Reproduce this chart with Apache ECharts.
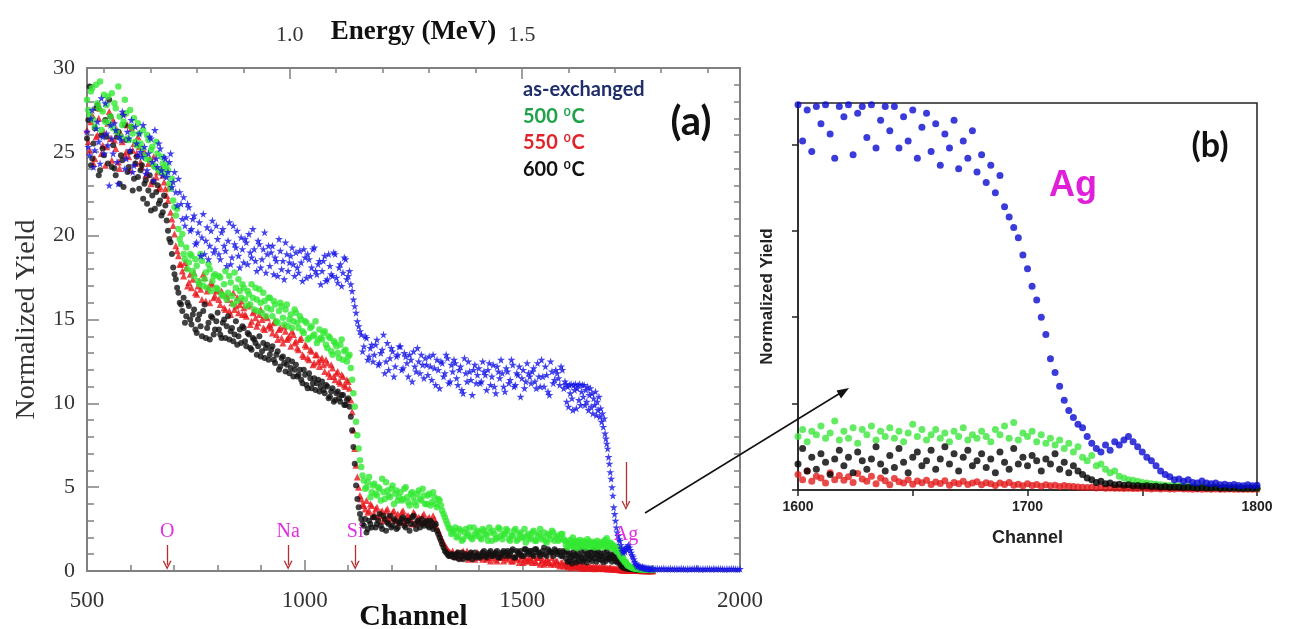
<!DOCTYPE html>
<html lang="en">
<head>
  <meta charset="UTF-8">
  <title>RBS spectra</title>
  <script src="https://cdn.jsdelivr.net/npm/echarts@6/dist/echarts.min.js"></script>
</head>
<body style="margin:0;background:#fff">
  <div id="app" style="width: 1295px; height: 629px;"></div>
  <script>
    // channel grids: two interleaved coarse sets for panel (a), fine set shared with panel (b), blue tail
    var coarseStart = 500, coarseStartB = 503, coarseStep = 6
    var fineStart = 1600, fineStep = 2
    var tailStart = 1805, tailStep = 5

    var blueCoarse = [
      26.2, 24.8, 27.5, 25.1, 26.8, 24.3, 25.9, 27.9, 25.4, 26.6,
      24.9, 26.3, 23.1, 25.7, 27.2, 24.6, 25.8, 26.9, 24.2, 25.5,
      26.1, 24.7, 25.3, 23.9, 25.9, 24.4, 26.3, 24.1, 25.2, 23.6,
      24.6, 23.8, 24.9, 23.2, 22.6, 23.4, 21.9, 22.3, 21.1, 21.7,
      20.4, 21.2, 19.6, 20.8, 19.9, 18.9, 20.5, 19.4, 20.9, 19.2,
      19.8, 18.6, 20.4, 19.1, 19.7, 18.3, 20.6, 19.3, 18.8, 19.9,
      18.4, 19.6, 20.1, 18.7, 19.2, 17.9, 19.5, 18.6, 20.2, 18.9,
      18.2, 19.4, 18.7, 17.6, 19.1, 18.5, 19.6, 17.9, 18.8, 18.3,
      19.0, 17.8, 18.4, 19.2, 17.5, 18.6, 18.1, 19.3, 17.7, 18.5,
      17.9, 18.8, 17.4, 18.2, 17.6, 18.9, 17.2, 18.3, 17.8, 18.6,
      17.6, 17.1, 16.2, 15.4, 14.6, 14.1, 13.4, 13.9, 12.8, 13.5,
      12.9, 13.8, 12.4, 13.2, 11.8, 13.6, 12.7, 13.1, 12.2, 12.9,
      13.4, 12.1, 12.8, 11.6, 12.6, 13.1, 11.9, 12.5, 12.9, 11.5,
      12.3, 12.8, 11.4, 12.1, 12.6, 10.9, 12.4, 11.8, 12.7, 11.3,
      11.9, 12.4, 11.1, 12.2, 10.6, 11.8, 12.5, 11.4, 12.0, 11.2,
      12.1, 11.3, 11.9, 10.8, 12.4, 11.6, 11.0, 12.2, 11.5, 11.8,
      10.7, 11.9, 11.4, 12.3, 11.1, 11.7, 10.4, 12.0, 11.3, 11.8,
      11.2, 12.1, 10.9, 11.6, 12.6, 11.0, 11.7, 10.5, 11.9, 11.4,
      11.8, 11.1, 12.0, 11.3
    ]
    var blueCoarseB = [
      25.3, 27.0, 24.1, 26.4, 25.6, 28.2, 24.9, 26.1, 23.0, 25.8,
      26.7, 24.4, 25.9, 27.4, 24.0, 26.2, 25.1, 23.8, 26.5, 24.8,
      25.0, 26.6, 23.7, 24.9, 25.8, 23.3, 24.6, 25.5, 23.9, 24.7,
      23.5, 24.4, 22.9, 23.8, 21.8, 22.6, 21.0, 20.6, 21.9, 20.3,
      21.0, 19.5, 20.2, 18.8, 21.3, 19.7, 18.6, 20.3, 19.0, 20.6,
      18.9, 20.2, 19.4, 18.2, 20.8, 18.7, 19.5, 20.3, 18.1, 19.2,
      19.8, 18.3, 19.0, 20.4, 18.5, 19.7, 18.1, 19.2, 17.8, 19.4,
      19.0, 17.7, 18.5, 19.8, 18.0, 17.4, 18.9, 18.4, 19.3, 17.6,
      18.1, 19.1, 17.3, 18.7, 18.9, 17.6, 19.2, 17.9, 18.3, 17.1,
      18.5, 17.3, 18.9, 17.7, 19.0, 17.5, 18.1, 17.0, 18.7, 17.4,
      17.9, 16.7, 15.8, 14.9, 14.3, 13.1, 14.0, 12.6, 13.3, 12.5,
      13.5, 12.3, 13.0, 14.1, 12.5, 12.0, 13.3, 11.6, 12.8, 13.4,
      12.0, 13.0, 12.4, 12.9, 11.3, 12.2, 13.3, 11.8, 12.3, 12.7,
      11.7, 12.2, 12.9, 11.1, 12.0, 12.5, 11.6, 12.9, 11.2, 12.3,
      12.6, 11.5, 12.0, 10.8, 12.7, 11.3, 11.9, 10.5, 12.3, 11.7,
      11.2, 12.5, 11.7, 12.0, 11.1, 12.3, 10.6, 11.9, 12.6, 11.0,
      12.1, 11.2, 12.6, 11.0, 11.8, 12.2, 11.5, 10.9, 12.4, 11.6,
      11.9, 11.3, 12.4, 11.0, 11.6, 12.2, 10.7, 12.5, 11.2, 12.0,
      11.5, 12.2, 10.9
    ]
    var greenCoarse = [
      28.1, 27.2, 28.8, 26.5, 27.9, 29.2, 27.4, 26.8, 28.3, 27.1,
      26.4, 27.6, 28.9, 25.9, 26.8, 27.3, 25.7, 26.5, 27.0, 25.4,
      26.1, 25.2, 24.8, 26.0, 24.5, 25.3, 24.1, 24.9, 23.8, 24.3,
      23.6, 23.9, 22.8, 22.1, 21.2, 20.4, 19.5, 18.9, 19.3, 18.4,
      18.8, 17.6, 18.2, 17.1, 18.5, 17.4, 16.9, 18.0, 17.3, 17.7,
      16.8, 17.5, 16.4, 17.9, 16.6, 17.2, 15.9, 16.9, 17.4, 16.3,
      16.9, 15.8, 16.5, 17.1, 15.6, 16.2, 16.8, 15.4, 16.1, 15.7,
      16.3, 15.2, 15.9, 14.8, 16.0, 15.1, 15.6, 14.6, 15.3, 14.9,
      15.4, 14.5, 15.0, 14.2, 14.8, 13.9, 14.6, 14.1, 13.6, 14.4,
      13.8, 14.3, 13.3, 13.9, 12.9, 13.6, 13.0, 13.5, 12.6, 13.2,
      12.8, 12.1, 10.6, 8.9, 7.3, 6.2, 5.4, 5.0, 5.6, 4.7,
      5.2, 4.5, 4.9, 5.5, 4.3, 4.8, 4.4, 5.1, 4.6, 4.2,
      4.7, 4.3, 5.0, 4.1, 4.6, 4.4, 3.9, 4.8, 4.2, 4.5,
      4.0, 4.6, 4.1, 4.4, 3.8, 4.2, 3.6, 3.2, 2.8, 2.5,
      2.3, 2.6, 2.1, 2.4, 1.9, 2.5, 2.2, 2.0, 2.6, 2.1,
      2.3, 1.9, 2.4, 2.1, 2.6, 1.8, 2.2, 2.0, 2.5, 1.9,
      2.2, 2.4, 1.8, 2.1, 2.5, 1.9, 2.3, 2.0, 1.7, 2.2,
      2.0, 2.4, 1.8, 2.2, 1.9, 2.3, 1.7, 2.1, 2.4, 1.8,
      2.1, 1.9, 2.2, 1.8
    ]
    var greenCoarseB = [
      27.5, 28.6, 26.9, 29.0, 27.6, 26.3, 28.4, 27.8, 26.7, 28.5,
      27.9, 26.2, 27.1, 26.6, 28.1, 25.8, 27.5, 26.1, 25.6, 26.7,
      25.5, 26.3, 24.6, 25.7, 25.1, 24.2, 25.6, 23.9, 24.7, 24.0,
      24.2, 23.1, 23.4, 21.7, 21.6, 19.8, 20.1, 18.6, 18.0, 18.9,
      17.9, 18.6, 17.3, 18.9, 17.0, 17.8, 18.3, 16.7, 17.6, 16.9,
      17.6, 16.5, 17.1, 16.2, 17.6, 16.4, 17.8, 16.1, 16.7, 17.1,
      16.2, 16.7, 15.9, 16.3, 16.9, 15.5, 16.0, 16.6, 15.2, 16.3,
      15.6, 16.1, 14.9, 15.5, 15.8, 14.7, 15.9, 15.0, 14.5, 15.6,
      14.8, 15.2, 14.3, 14.9, 13.8, 14.5, 14.0, 14.9, 13.8, 13.9,
      14.2, 13.5, 14.0, 13.1, 13.7, 13.4, 12.7, 13.8, 13.1, 12.5,
      12.9, 11.4, 9.8, 8.1, 6.6, 5.7, 4.9, 5.3, 4.4, 5.1,
      4.6, 5.0, 4.2, 4.7, 5.3, 4.5, 4.9, 4.0, 4.8, 4.4,
      4.2, 4.9, 4.4, 3.9, 4.7, 4.1, 4.6, 4.3, 4.9, 4.0,
      4.5, 3.9, 4.7, 4.0, 4.3, 3.9, 3.4, 3.0, 2.6, 2.2,
      2.4, 2.0, 2.5, 1.8, 2.3, 2.1, 2.6, 1.9, 2.2, 2.4,
      2.0, 2.5, 2.2, 1.8, 2.3, 2.4, 1.9, 2.6, 2.1, 2.2,
      2.5, 1.9, 2.1, 2.4, 1.8, 2.2, 2.0, 2.5, 2.1, 1.9,
      2.3, 1.8, 2.1, 2.5, 2.0, 1.8, 2.2, 1.9, 2.3, 2.0,
      1.8, 2.2, 1.9
    ]
    var redCoarse = [
      26.3, 25.1, 27.2, 24.6, 26.0, 27.6, 25.4, 24.2, 26.7, 25.8,
      26.9, 25.2, 24.4, 26.1, 27.3, 25.0, 24.7, 26.4, 25.5, 24.9,
      25.3, 24.1, 25.0, 23.7, 24.6, 23.3, 24.2, 23.8, 22.9, 23.6,
      22.8, 22.1, 21.4, 20.6, 19.4, 18.8, 18.3, 17.6, 18.1, 17.2,
      16.9, 17.8, 16.5, 17.3, 16.2, 17.5, 16.7, 16.0, 17.1, 16.4,
      16.8, 15.9, 16.5, 15.6, 16.2, 15.3, 16.6, 15.8, 15.4, 16.1,
      15.7, 15.2, 15.9, 14.9, 15.5, 14.6, 15.3, 15.0, 14.4, 15.1,
      14.7, 14.2, 14.9, 13.8, 14.5, 13.6, 14.3, 13.9, 13.4, 14.1,
      13.7, 13.2, 13.9, 12.8, 13.4, 12.6, 13.1, 12.4, 12.9, 12.2,
      12.7, 11.9, 12.4, 11.6, 12.1, 11.4, 11.9, 11.2, 11.6, 11.0,
      11.3, 10.2, 8.4, 6.3, 5.0, 4.3, 3.9, 4.2, 3.6, 3.9,
      3.4, 3.8, 3.3, 3.6, 3.1, 3.7, 3.2, 3.5, 3.0, 3.4,
      3.2, 3.6, 2.9, 3.3, 3.1, 3.5, 2.8, 3.2, 3.0, 3.4,
      2.9, 3.2, 2.7, 3.1, 2.6, 2.2, 1.8, 1.5, 1.3, 1.1,
      1.2, 0.9, 1.1, 0.8, 1.2, 1.0, 0.7, 1.1, 0.9, 1.0,
      0.8, 1.1, 0.9, 0.7, 1.0, 0.8, 1.1, 0.6, 0.9, 0.8,
      1.0, 0.7, 0.9, 0.6, 0.8, 1.0, 0.7, 0.5, 0.8, 0.6,
      0.7, 0.9, 0.5, 0.8, 0.6, 0.4, 0.7, 0.5, 0.8, 0.4,
      0.6, 0.3, 0.5, 0.4
    ]
    var redCoarseB = [
      25.6, 26.8, 24.3, 25.9, 27.0, 24.9, 26.2, 25.3, 27.4, 24.5,
      25.7, 26.3, 24.0, 25.6, 24.8, 26.6, 23.9, 25.1, 24.3, 25.9,
      24.4, 24.9, 23.6, 24.3, 23.1, 24.7, 23.5, 22.8, 24.0, 23.2,
      22.4, 22.9, 21.0, 20.1, 19.1, 18.3, 17.9, 18.4, 17.0, 17.7,
      17.4, 16.6, 17.0, 16.8, 17.7, 16.1, 16.9, 17.2, 16.3, 16.7,
      16.2, 16.7, 15.7, 16.4, 15.5, 16.0, 15.6, 16.3, 15.9, 15.3,
      15.3, 15.8, 14.7, 15.4, 15.1, 14.8, 15.6, 14.5, 15.2, 14.6,
      14.5, 14.8, 14.1, 14.4, 13.9, 14.6, 13.8, 14.0, 14.3, 13.6,
      13.3, 13.8, 12.9, 13.5, 12.7, 13.2, 12.3, 12.9, 12.5, 12.6,
      12.3, 12.6, 11.8, 12.3, 11.6, 11.8, 11.3, 11.7, 11.1, 11.4,
      10.9, 9.5, 7.3, 5.6, 4.5, 4.0, 3.7, 3.5, 4.0, 3.3,
      3.7, 3.2, 3.5, 3.0, 3.6, 3.3, 3.1, 3.6, 3.2, 2.9,
      3.5, 3.0, 3.3, 3.2, 2.8, 3.4, 3.1, 2.9, 3.3, 3.0,
      3.1, 2.8, 3.3, 2.9, 2.4, 2.0, 1.7, 1.4, 1.2, 1.0,
      0.9, 1.1, 0.8, 1.0, 0.9, 1.2, 0.8, 1.0, 0.7, 1.1,
      0.9, 0.7, 1.0, 0.8, 0.6, 1.0, 0.7, 0.9, 0.8, 0.6,
      0.8, 0.9, 0.6, 0.8, 0.7, 0.5, 0.9, 0.7, 0.6, 0.8,
      0.5, 0.6, 0.8, 0.4, 0.7, 0.5, 0.6, 0.4, 0.5, 0.6,
      0.4, 0.5, 0.3
    ]
    var blackCoarse = [
      25.8, 28.9, 24.6, 26.4, 27.8, 23.9, 25.2, 26.9, 24.3, 27.1,
      25.4, 23.6, 26.2, 24.8, 22.9, 25.7, 24.1, 26.5, 23.4, 24.7,
      22.8, 24.2, 23.1, 21.9, 23.6, 22.4, 21.6, 23.0, 22.1, 21.4,
      21.8, 20.3, 19.6, 18.1, 17.4, 16.6, 15.9, 16.3, 15.2, 15.8,
      14.7, 15.6, 14.2, 15.3, 14.0, 15.9, 14.5, 13.8, 15.1, 14.4,
      15.4, 14.1, 14.8, 13.9, 15.2, 14.3, 13.7, 14.9, 14.0, 13.6,
      14.5, 13.4, 14.1, 13.2, 13.8, 12.9, 14.0, 13.1, 12.7, 13.5,
      12.9, 13.4, 12.4, 13.1, 12.2, 12.8, 11.9, 12.6, 12.1, 11.6,
      12.3, 11.7, 11.4, 12.0, 11.1, 11.8, 10.9, 11.5, 11.2, 10.7,
      11.3, 10.6, 11.0, 10.4, 10.9, 10.2, 10.7, 10.1, 10.5, 9.9,
      10.3, 9.2, 7.4, 5.1, 3.8, 3.1, 2.7, 2.3, 3.0, 2.6,
      3.2, 2.8, 3.4, 2.5, 3.1, 2.9, 3.3, 2.7, 3.0, 2.6,
      2.9, 3.2, 2.6, 3.0, 2.8, 3.3, 2.5, 2.9, 3.1, 2.7,
      3.0, 2.6, 2.9, 2.7, 2.4, 2.0, 1.6, 1.2, 1.0, 0.9,
      1.0, 0.8, 1.1, 0.9, 0.7, 1.0, 0.8, 1.1, 0.9, 0.8,
      1.0, 0.9, 1.2, 0.8, 1.1, 0.9, 1.0, 1.2, 0.8, 1.1,
      0.9, 1.2, 1.0, 1.3, 0.8, 1.1, 1.2, 0.9, 1.3, 1.0,
      1.2, 0.9, 1.3, 1.1, 1.0, 1.4, 0.9, 1.2, 1.1, 1.3,
      1.0, 1.2, 0.9, 1.1
    ]
    var blackCoarseB = [
      26.9, 24.2, 25.5, 27.6, 23.6, 26.0, 24.8, 25.9, 28.1, 24.1,
      24.0, 25.9, 23.1, 24.5, 26.6, 23.8, 25.0, 22.7, 24.3, 23.5,
      23.9, 22.2, 23.3, 22.7, 21.5, 23.2, 22.6, 21.9, 21.2, 22.4,
      20.9, 19.8, 18.9, 17.7, 16.9, 16.0, 15.5, 14.8, 16.0, 15.0,
      15.3, 14.4, 15.0, 14.6, 15.5, 13.9, 14.8, 15.2, 14.1, 14.9,
      14.4, 13.9, 15.0, 14.6, 13.8, 14.5, 14.1, 13.5, 14.4, 14.6,
      13.7, 14.2, 13.3, 13.9, 13.6, 13.4, 12.8, 13.6, 13.3, 12.6,
      13.2, 12.6, 12.9, 12.0, 12.7, 12.4, 12.3, 11.8, 12.5, 12.0,
      11.6, 12.0, 11.2, 11.7, 10.9, 11.5, 11.2, 10.8, 11.4, 11.0,
      10.8, 11.1, 10.3, 10.7, 10.1, 10.6, 10.3, 10.5, 9.9, 10.2,
      9.8, 8.4, 6.4, 4.3, 3.4, 2.8, 3.1, 2.5, 2.8, 3.2,
      2.6, 3.0, 2.7, 3.3, 2.4, 2.8, 2.6, 3.1, 2.5, 2.9,
      3.1, 2.7, 3.0, 2.4, 3.2, 2.8, 3.0, 2.6, 2.8, 2.9,
      2.7, 3.0, 2.5, 2.8, 2.2, 1.8, 1.4, 1.1, 0.9, 1.0,
      0.8, 1.0, 0.7, 1.1, 0.9, 0.8, 1.0, 0.7, 1.1, 0.9,
      0.8, 1.1, 0.9, 1.0, 1.2, 0.9, 1.1, 0.8, 1.0, 1.2,
      1.1, 0.9, 1.2, 0.8, 1.2, 1.0, 0.9, 1.3, 1.1, 1.2,
      1.0, 1.3, 1.1, 0.9, 1.2, 1.0, 1.3, 1.1, 0.9, 1.2,
      1.1, 0.9, 1.2
    ]

    var blueFine = [
      11.15, 10.1, 11.0, 9.8, 11.1, 10.6, 11.15, 10.3, 9.6, 11.1,
      10.8, 11.15, 9.7, 10.9, 11.1, 10.2, 11.15, 9.9, 10.7, 11.1,
      10.4, 11.1, 9.9, 10.8, 10.1, 11.0, 9.6, 10.5, 10.9, 9.8,
      10.6, 9.4, 10.3, 9.9, 10.7, 9.3, 10.1, 9.6, 10.4, 9.2,
      9.7, 8.9, 9.4, 8.6, 9.1, 8.2, 7.9, 7.6, 7.3, 6.8,
      6.4, 5.9, 5.5, 5.0, 4.5, 3.8, 3.4, 3.0, 2.6, 2.3,
      2.1, 1.9, 1.8, 1.55, 1.35, 1.2, 1.1, 1.3, 1.15, 1.4,
      1.3, 1.45, 1.55, 1.4, 1.25, 1.1, 0.95, 0.85, 0.7, 0.55,
      0.45, 0.38, 0.3, 0.32, 0.25, 0.3, 0.22, 0.2, 0.26, 0.2,
      0.18, 0.2, 0.15, 0.17, 0.14, 0.16, 0.13, 0.12, 0.15, 0.12,
      0.14
    ]
    var greenFine = [
      1.55, 1.75, 1.4, 1.7, 1.6, 1.85, 1.5, 1.65, 2.0, 1.45,
      1.7, 1.5, 1.8, 1.35, 1.75, 1.6, 1.85, 1.45, 1.7, 1.55,
      1.8, 1.5, 1.7, 1.4, 1.65, 1.9, 1.55, 1.75, 1.45, 1.6,
      1.75, 1.5, 1.65, 1.4, 1.7, 1.55, 1.8, 1.45, 1.6, 1.5,
      1.7, 1.55, 1.4, 1.75, 1.6, 1.85, 1.5, 1.95, 1.45, 1.65,
      1.55, 1.7, 1.4, 1.6, 1.35, 1.5, 1.3, 1.45, 1.2, 1.35,
      1.1, 1.25, 0.95, 0.85, 1.0, 0.7, 0.75, 0.6, 0.5, 0.55,
      0.4, 0.35, 0.3, 0.28, 0.25, 0.22, 0.2, 0.18, 0.17, 0.15,
      0.14, 0.13, 0.12, 0.12, 0.11, 0.1, 0.1, 0.09, 0.1, 0.09,
      0.08, 0.09, 0.08, 0.07, 0.08, 0.07, 0.07, 0.06, 0.07, 0.06,
      0.06
    ]
    var redFine = [
      0.45, 0.3, 0.55, 0.25, 0.4, 0.35, 0.2, 0.5, 0.3, 0.42,
      0.28, 0.38, 0.22, 0.48, 0.32, 0.25, 0.4, 0.18, 0.35, 0.27,
      0.15, 0.33, 0.24, 0.2, 0.3, 0.17, 0.26, 0.21, 0.28, 0.16,
      0.23, 0.19, 0.27, 0.14, 0.22, 0.18, 0.25, 0.16, 0.2, 0.24,
      0.15, 0.21, 0.18, 0.13, 0.2, 0.16, 0.22, 0.14, 0.17, 0.12,
      0.18, 0.13, 0.16, 0.11, 0.15, 0.12, 0.14, 0.1, 0.13, 0.11,
      0.1, 0.09, 0.08, 0.07, 0.08, 0.06, 0.07, 0.05, 0.06, 0.05,
      0.05, 0.04, 0.05, 0.04, 0.04, 0.05, 0.04, 0.03, 0.04, 0.03,
      0.04, 0.03, 0.03, 0.04, 0.03, 0.03, 0.02, 0.03, 0.02, 0.03,
      0.02, 0.03, 0.02, 0.02, 0.03, 0.02, 0.02, 0.02, 0.02, 0.02,
      0.02
    ]
    var blackFine = [
      0.75, 1.2, 0.55, 0.95, 0.6, 1.05, 0.8, 0.45, 0.9, 1.15,
      0.7, 0.95, 0.5, 1.1, 0.85, 0.6, 0.9, 1.25, 0.75, 0.55,
      1.0, 0.65, 1.2, 0.8, 0.5, 0.95, 1.1, 0.7, 0.85, 1.15,
      0.6, 0.9, 1.25, 0.75, 1.05, 0.55, 0.95, 1.15, 0.7, 0.85,
      1.05, 0.65, 0.9, 0.5, 1.1, 0.8, 0.6, 1.2, 0.75, 0.95,
      0.7, 1.0, 0.85, 0.55, 0.9, 0.75, 1.05, 0.6, 0.8, 0.5,
      0.7, 0.55, 0.45, 0.35, 0.3, 0.22, 0.25, 0.18, 0.2, 0.15,
      0.17, 0.14, 0.15, 0.12, 0.13, 0.11, 0.12, 0.1, 0.11, 0.09,
      0.1, 0.08, 0.09, 0.08, 0.07, 0.08, 0.07, 0.06, 0.07, 0.06,
      0.06, 0.07, 0.05, 0.06, 0.05, 0.06, 0.05, 0.04, 0.05, 0.04,
      0.05
    ]
    var blueTail = [
      0.13, 0.15, 0.12, 0.14, 0.16, 0.12, 0.13, 0.15, 0.11, 0.14,
      0.13, 0.12, 0.15, 0.13, 0.11, 0.14, 0.12, 0.13, 0.15, 0.12,
      0.14, 0.11, 0.13, 0.12, 0.14, 0.13, 0.11, 0.15, 0.12, 0.13,
      0.14, 0.12, 0.11, 0.13, 0.12, 0.14, 0.13, 0.12, 0.11, 0.13
    ]

    var seriesNames = ['as-exchanged', '500 ⁰C', '550 ⁰C', '600 ⁰C']
    // top energy axis: full range, 0.1 MeV minor ticks, labelled 1.0 / 1.5
    var energyMin = 0.563, energyMax = 1.970
    var energyMinorMin = 0.6, energyMinorMax = 1.9
    var energyLabels = [1.0, 1.5]
    var elementNames = ['O', 'Na', 'Si', 'Ag']
    var elementCh = [684, 962, 1116, 1738]

    function pts(start, step, vals) {
      return vals.map(function (v, i) { return [start + i * step, v] })
    }

    var blueA = pts(coarseStart, coarseStep, blueCoarse).concat(pts(coarseStartB, coarseStep, blueCoarseB), pts(fineStart, fineStep, blueFine), pts(tailStart, tailStep, blueTail))
    var greenA = pts(coarseStart, coarseStep, greenCoarse).concat(pts(coarseStartB, coarseStep, greenCoarseB), pts(fineStart, fineStep, greenFine))
    var redA = pts(coarseStart, coarseStep, redCoarse).concat(pts(coarseStartB, coarseStep, redCoarseB), pts(fineStart, fineStep, redFine))
    var blackA = pts(coarseStart, coarseStep, blackCoarse).concat(pts(coarseStartB, coarseStep, blackCoarseB), pts(fineStart, fineStep, blackFine))

    // panel (a) plot box
    var aLeft = 87, aTop = 68, aWidth = 653, aHeight = 503
    function energyX(e) { return aLeft + (e - energyMin) / (energyMax - energyMin) * aWidth }

    var star = 'path://M50,0 L61,35 L98,35 L68,57 L79,91 L50,70 L21,91 L32,57 L2,35 L39,35 Z'
    var openArrow = 'path://M0,10 L5,0 L10,10 L8.4,10 L5,3.2 L1.6,10 Z'
    var grayAxis = '#808080'
    var serif = 'Liberation Serif'
    var sans = 'Liberation Sans'

    var markerLines = elementCh.map(function (c, i) {
      var top = i === 3 ? 6.5 : 1.55
      var bottom = i === 3 ? 3.9 : 0.35
      return [{ coord: [c, top] }, { coord: [c, bottom] }]
    })
    var markerLabels = elementCh.map(function (c, i) {
      return { name: elementNames[i], coord: [c, i === 3 ? 2.15 : 2.35] }
    })

    var mCharts = echarts.init(document.querySelector('#app'))
    var option = {
      animation: false,
      grid: [
        { left: aLeft, top: aTop, width: aWidth, height: aHeight, outerBoundsMode: 'none' },
        { left: 798, top: 103, width: 459, height: 387, outerBoundsMode: 'none', show: true, borderColor: '#222', borderWidth: 1.5 },
        // helper boxes for the energy ticks on top of panel (a)
        { left: energyX(energyMinorMin), top: aTop, width: energyX(energyMinorMax) - energyX(energyMinorMin), height: aHeight, outerBoundsMode: 'none' },
        { left: energyX(energyLabels[0]), top: aTop, width: energyX(energyLabels[1]) - energyX(energyLabels[0]), height: aHeight, outerBoundsMode: 'none' }
      ],
      xAxis: [
        {
          gridIndex: 0, type: 'value', min: 500, max: 2000, interval: 500, position: 'bottom',
          axisLine: { onZero: false, lineStyle: { color: grayAxis, width: 2 } },
          axisTick: { inside: true, length: 11, lineStyle: { color: grayAxis, width: 1.5 } },
          minorTick: { show: true, splitNumber: 5, length: 6, lineStyle: { color: grayAxis, width: 1.5 } },
          splitLine: { show: false },
          axisLabel: { fontFamily: serif, fontSize: 23, color: '#333', margin: 18, formatter: function (v) { return String(v) } },
          name: 'Channel', nameLocation: 'middle', nameGap: 31, nameMoveOverlap: false,
          nameTextStyle: { fontFamily: serif, fontWeight: 'bold', fontSize: 30, color: '#111' }
        },
        {
          gridIndex: 0, type: 'value', min: energyMin, max: energyMax, position: 'top',
          axisLine: { onZero: false, lineStyle: { color: grayAxis, width: 2 } },
          axisTick: { show: false },
          axisLabel: { show: false },
          splitLine: { show: false },
          name: 'Energy (MeV)', nameLocation: 'middle', nameGap: 22, nameMoveOverlap: false,
          nameTextStyle: { fontFamily: serif, fontWeight: 'bold', fontSize: 27, color: '#111' }
        },
        {
          gridIndex: 1, type: 'value', min: 1600, max: 1800, interval: 50,
          axisLine: { onZero: false, lineStyle: { color: '#222', width: 1.5 } },
          axisTick: { length: 6, lineStyle: { color: '#222', width: 1.5 } },
          splitLine: { show: false },
          axisLabel: {
            fontFamily: sans, fontWeight: 'bold', fontSize: 14, color: '#222', margin: 10,
            formatter: function (v) { return v % 100 === 0 ? String(v) : '' }
          },
          name: 'Channel', nameLocation: 'middle', nameGap: 39, nameMoveOverlap: false,
          nameTextStyle: { fontFamily: sans, fontWeight: 'bold', fontSize: 18, color: '#222' }
        },
        {
          gridIndex: 2, type: 'value', min: energyMinorMin, max: energyMinorMax, interval: 0.1, position: 'top',
          axisLine: { show: false, onZero: false },
          axisTick: { inside: true, length: 5, lineStyle: { color: grayAxis, width: 1.5 } },
          axisLabel: { show: false },
          splitLine: { show: false }
        },
        {
          gridIndex: 3, type: 'value', min: energyLabels[0], max: energyLabels[1], interval: 0.5, position: 'top',
          axisLine: { show: false, onZero: false },
          axisTick: { inside: true, length: 11, lineStyle: { color: grayAxis, width: 1.5 } },
          axisLabel: {
            showMinLabel: true, showMaxLabel: true, fontFamily: serif, fontSize: 22, color: '#333', margin: 22,
            formatter: function (v) { return v.toFixed(1) }
          },
          splitLine: { show: false }
        }
      ],
      yAxis: [
        {
          gridIndex: 0, type: 'value', min: 0, max: 30, interval: 5,
          axisLine: { onZero: false, lineStyle: { color: grayAxis, width: 2 } },
          axisTick: { inside: true, length: 12, lineStyle: { color: grayAxis, width: 1.5 } },
          minorTick: { show: true, splitNumber: 5, length: 7, lineStyle: { color: grayAxis, width: 1.5 } },
          splitLine: { show: false },
          axisLabel: { fontFamily: serif, fontSize: 22, color: '#333', margin: 12 },
          name: 'Normalized Yield', nameLocation: 'middle', nameGap: 46, nameMoveOverlap: false,
          nameTextStyle: { fontFamily: serif, fontSize: 28, color: '#333' }
        },
        {
          gridIndex: 0, type: 'value', min: 0, max: 30, interval: 1, position: 'right',
          axisLine: { onZero: false, lineStyle: { color: grayAxis, width: 2 } },
          axisTick: { inside: true, length: 6, lineStyle: { color: grayAxis, width: 1.5 } },
          axisLabel: { show: false },
          splitLine: { show: false }
        },
        {
          gridIndex: 1, type: 'value', min: 0, max: 11.2,
          axisLine: { onZero: false, lineStyle: { color: '#222', width: 1.5 } },
          axisTick: { length: 6, customValues: [0, 2.5, 5, 7.5, 10], lineStyle: { color: '#222', width: 1.5 } },
          axisLabel: { show: false },
          splitLine: { show: false },
          name: 'Normalized Yield', nameLocation: 'middle', nameGap: 22, nameMoveOverlap: false,
          nameTextStyle: { fontFamily: sans, fontWeight: 'bold', fontSize: 17, color: '#222' }
        },
        { gridIndex: 2, type: 'value', min: 0, max: 1, show: false },
        { gridIndex: 3, type: 'value', min: 0, max: 1, show: false }
      ],
      series: [
        {
          name: seriesNames[2], type: 'scatter', xAxisIndex: 0, yAxisIndex: 0, data: redA,
          symbol: 'triangle', symbolSize: 7, itemStyle: { color: '#e8161b' },
          markLine: {
            silent: true, symbol: ['none', openArrow], symbolSize: [9, 9],
            lineStyle: { color: '#b23030', width: 1.3, type: 'solid' }, label: { show: false },
            data: markerLines
          },
          markPoint: {
            silent: true, symbol: 'circle', symbolSize: 1, itemStyle: { color: 'rgba(0,0,0,0)' },
            label: { show: true, position: 'inside', formatter: '{b}', fontFamily: serif, fontSize: 20, color: '#e030e0' },
            data: markerLabels
          }
        },
        {
          name: seriesNames[3], type: 'scatter', xAxisIndex: 0, yAxisIndex: 0, data: blackA,
          symbol: 'circle', symbolSize: 6, itemStyle: { color: '#111' }
        },
        {
          name: seriesNames[1], type: 'scatter', xAxisIndex: 0, yAxisIndex: 0, data: greenA,
          symbol: 'circle', symbolSize: 6.5, itemStyle: { color: '#33e833' }
        },
        {
          name: seriesNames[0], type: 'scatter', xAxisIndex: 0, yAxisIndex: 0, data: blueA,
          symbol: star, symbolSize: 8, itemStyle: { color: '#1414e6' }
        },
        {
          name: seriesNames[2], type: 'scatter', xAxisIndex: 2, yAxisIndex: 2, data: pts(fineStart, fineStep, redFine),
          symbol: 'circle', symbolSize: 7, itemStyle: { color: '#e21b1b' }
        },
        {
          name: seriesNames[1], type: 'scatter', xAxisIndex: 2, yAxisIndex: 2, data: pts(fineStart, fineStep, greenFine),
          symbol: 'circle', symbolSize: 7, itemStyle: { color: '#3ce63c' }
        },
        {
          name: seriesNames[3], type: 'scatter', xAxisIndex: 2, yAxisIndex: 2, data: pts(fineStart, fineStep, blackFine),
          symbol: 'circle', symbolSize: 7, itemStyle: { color: '#000' }
        },
        {
          name: seriesNames[0], type: 'scatter', xAxisIndex: 2, yAxisIndex: 2, data: pts(fineStart, fineStep, blueFine),
          symbol: 'circle', symbolSize: 7, itemStyle: { color: '#0a0ad0' }
        }
      ],
      graphic: [
        // legend text, panel (a)
        { type: 'text', x: 523, y: 90, z: 100, style: { text: 'as-exchanged', font: 'bold 20px Lato', fill: '#1f2d6b', verticalAlign: 'middle' } },
        {
          type: 'text', x: 523, y: 117, z: 100,
          style: { text: '500 {s|0}C', font: 'bold 20px Lato', fill: '#1fa24a', verticalAlign: 'middle', rich: { s: { fontSize: 12, fontWeight: 'bold', fontFamily: 'Lato', fill: '#1fa24a', padding: [0, 1, 9, 1] } } }
        },
        {
          type: 'text', x: 523, y: 143, z: 100,
          style: { text: '550 {s|0}C', font: 'bold 20px Lato', fill: '#e0242a', verticalAlign: 'middle', rich: { s: { fontSize: 12, fontWeight: 'bold', fontFamily: 'Lato', fill: '#e0242a', padding: [0, 1, 9, 1] } } }
        },
        {
          type: 'text', x: 523, y: 170, z: 100,
          style: { text: '600 {s|0}C', font: 'bold 20px Lato', fill: '#111', verticalAlign: 'middle', rich: { s: { fontSize: 12, fontWeight: 'bold', fontFamily: 'Lato', fill: '#111', padding: [0, 1, 9, 1] } } }
        },
        { type: 'text', x: 691, y: 122, z: 100, style: { text: '(a)', font: 'bold 40px Lato', fill: '#111', align: 'center', verticalAlign: 'middle' } },
        { type: 'text', x: 1210, y: 146, z: 100, style: { text: '(b)', font: 'bold 34px Lato', fill: '#111', align: 'center', verticalAlign: 'middle' } },
        { type: 'text', x: 1073, y: 186, z: 100, style: { text: 'Ag', font: 'bold 36px "Liberation Sans"', fill: '#e020d8', align: 'center', verticalAlign: 'middle' } },
        // arrow from (a) to (b)
        { type: 'line', z: 100, shape: { x1: 645, y1: 513, x2: 842, y2: 392 }, style: { stroke: '#111', lineWidth: 1.5 } },
        { type: 'polygon', z: 100, shape: { points: [[849, 388], [841, 398.5], [836.5, 390.5]] }, style: { fill: '#111' } }
      ]
    }
    mCharts.setOption(option)
  </script>
</body>
</html>
